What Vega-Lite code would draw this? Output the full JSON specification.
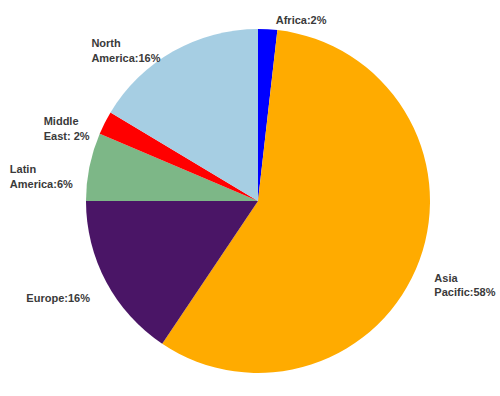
{
  "$schema": "https://vega.github.io/schema/vega-lite/v6.json",
  "width": 484,
  "height": 390,
  "autosize": {"type": "none"},
  "padding": {"left": 16, "top": 6, "right": 0, "bottom": 0},
  "background": "white",
  "data": {
    "values": [
      {"region": "Africa", "share": 1.8, "label": "Africa:2%"},
      {"region": "Asia Pacific", "share": 57.6, "label": "Asia\nPacific:58%"},
      {"region": "Europe", "share": 15.6, "label": "Europe:16%"},
      {"region": "Latin America", "share": 6.4, "label": "Latin\nAmerica:6%"},
      {"region": "Middle East", "share": 2.2, "label": "Middle\nEast: 2%"},
      {"region": "North America", "share": 16.4, "label": "North\nAmerica:16%"}
    ]
  },
  "encoding": {
    "theta": {"field": "share", "type": "quantitative", "stack": true},
    "order": {"field": "region", "sort": "ascending"}
  },
  "layer": [
    {
      "mark": {"type": "arc", "outerRadius": 172},
      "encoding": {
        "color": {
          "field": "region",
          "type": "nominal",
          "scale": {
            "domain": ["Africa", "Asia Pacific", "Europe", "Latin America", "Middle East", "North America"],
            "range": ["#0000FF", "#FFAB00", "#4A1566", "#7DB787", "#FF0000", "#A6CEE3"]
          },
          "legend": null
        }
      }
    },
    {
      "mark": {"type": "text", "radius": 190, "align": "left", "dx": 7, "dy": 10, "font": "Liberation Sans", "fontWeight": "bold", "fontSize": 11, "fill": "#3a3a3a", "lineBreak": "\n", "lineHeight": 15},
      "encoding": {
        "text": {"condition": {"test": "datum.region === 'Africa'", "field": "label"}, "value": ""}
      }
    },
    {
      "mark": {"type": "text", "radius": 190, "align": "left", "dx": -2, "dy": 13, "font": "Liberation Sans", "fontWeight": "bold", "fontSize": 11, "fill": "#3a3a3a", "lineBreak": "\n", "lineHeight": 14},
      "encoding": {
        "text": {"condition": {"test": "datum.region === 'Asia Pacific'", "field": "label"}, "value": ""}
      }
    },
    {
      "mark": {"type": "text", "radius": 190, "align": "left", "dx": -73, "dy": 8, "font": "Liberation Sans", "fontWeight": "bold", "fontSize": 11, "fill": "#3a3a3a", "lineBreak": "\n", "lineHeight": 15},
      "encoding": {
        "text": {"condition": {"test": "datum.region === 'North America'", "field": "label"}, "value": ""}
      }
    },
    {
      "mark": {"type": "text", "radius": 190, "align": "left", "dx": -62, "dy": 7, "font": "Liberation Sans", "fontWeight": "bold", "fontSize": 11, "fill": "#3a3a3a", "lineBreak": "\n", "lineHeight": 15},
      "encoding": {
        "text": {"condition": {"test": "datum.region === 'Latin America'", "field": "label"}, "value": ""}
      }
    },
    {
      "mark": {"type": "text", "radius": 190, "align": "left", "dx": -64, "dy": 9, "font": "Liberation Sans", "fontWeight": "bold", "fontSize": 11, "fill": "#3a3a3a", "lineBreak": "\n", "lineHeight": 15},
      "encoding": {
        "text": {"condition": {"test": "datum.region === 'Europe'", "field": "label"}, "value": ""}
      }
    },
    {
      "mark": {"type": "text", "radius": 190, "align": "left", "dx": -45, "dy": 7, "font": "Liberation Sans", "fontWeight": "bold", "fontSize": 11, "fill": "#3a3a3a", "lineBreak": "\n", "lineHeight": 15},
      "encoding": {
        "text": {"condition": {"test": "datum.region === 'Middle East'", "field": "label"}, "value": ""}
      }
    }
  ]
}
